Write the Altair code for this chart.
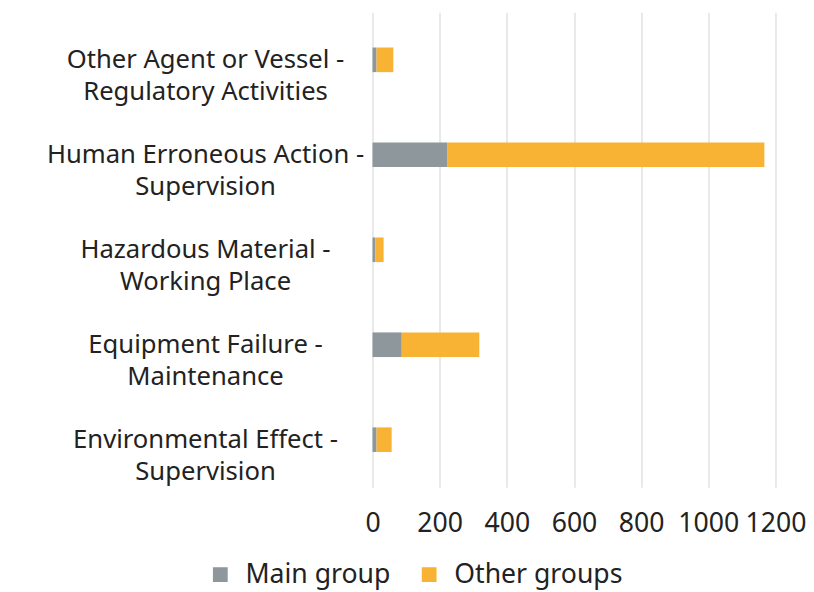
import altair as alt
import pandas as pd

categories = [
    "Other Agent or Vessel -|Regulatory Activities",
    "Human Erroneous Action -|Supervision",
    "Hazardous Material -|Working Place",
    "Equipment Failure -|Maintenance",
    "Environmental Effect -|Supervision",
]
main_group = [12, 222, 8, 87, 12]
other_groups = [50, 945, 25, 231, 45]
series = ["Main group", "Other groups"]
colors = ["#8D979C", "#F8B334"]
x_ticks = [0, 200, 400, 600, 800, 1000, 1200]

rows = []
for i, c in enumerate(categories):
    rows.append({"category": c, "series": series[0], "value": main_group[i], "order": 0})
    rows.append({"category": c, "series": series[1], "value": other_groups[i], "order": 1})
df = pd.DataFrame(rows)

FONT = "Noto Sans"
FS = 26
TXT = "#222222"

chart = alt.Chart(df).mark_bar(size=25).encode(
    y=alt.Y("category:N", sort=categories, title=None,
            axis=alt.Axis(labelExpr="split(datum.label, '|')", domain=False, ticks=False,
                          labelFontSize=FS, labelPadding=170, labelAlign="center",
                          labelColor=TXT, labelFont=FONT, labelLimit=400,
                          labelLineHeight=33)),
    x=alt.X("value:Q", stack="zero", title=None,
            scale=alt.Scale(domain=[0, 1200], nice=False),
            axis=alt.Axis(values=x_ticks, format="d", domain=False, ticks=False, grid=True,
                          gridColor="#e2e2e2", gridWidth=1.5, labelFontSize=27,
                          labelPadding=24, labelColor=TXT, labelFont=FONT,
                          labelFlush=False)),
    color=alt.Color("series:N", sort=series,
                    scale=alt.Scale(domain=series, range=colors),
                    legend=alt.Legend(orient="none", legendX=-168, legendY=557,
                                      direction="horizontal", title=None,
                                      symbolType="square", symbolSize=225, symbolStrokeWidth=0,
                                      labelFontSize=27, labelFont=FONT, labelColor=TXT,
                                      labelLimit=300, labelOffset=12, columnPadding=25)),
    order=alt.Order("order:Q", sort="ascending"),
).properties(
    width=409, height=482, padding={"left": 38, "top": 0, "right": 0, "bottom": 0}
).configure_view(stroke=None)

chart.save("out.html", embed_options={"renderer": "svg", "actions": False})
